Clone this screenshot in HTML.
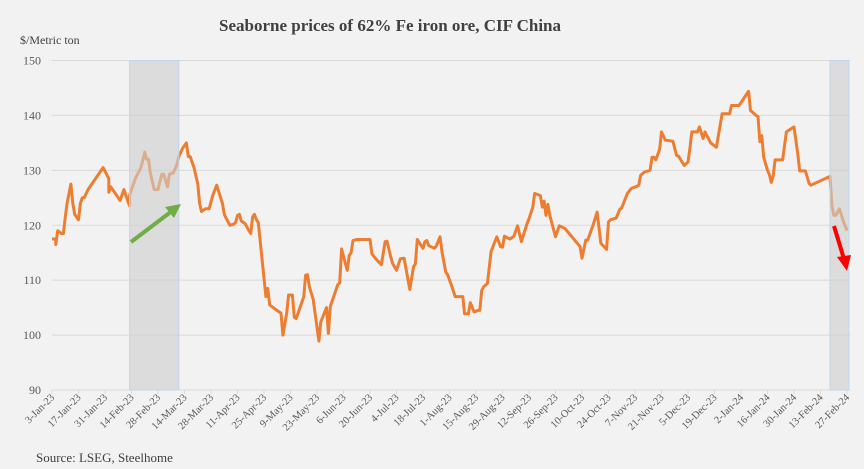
<!DOCTYPE html>
<html><head><meta charset="utf-8"><style>
body{margin:0;background:#f2f2f2;}
svg{display:block;font-family:"Liberation Serif",serif;}
</style></head><body>
<svg width="864" height="469" viewBox="0 0 864 469">
<rect width="864" height="469" fill="#f2f2f2"/>
<text x="390" y="31" text-anchor="middle" font-size="17" font-weight="bold" fill="#404040">Seaborne prices of 62% Fe iron ore, CIF China</text>
<text x="20" y="44" font-size="12" fill="#404040">$/Metric ton</text>
<g id="grid"></g><g id="line"></g><g id="shade"></g><g id="axes"></g>
<g><line x1="131" y1="242" x2="172" y2="211" stroke="#70ad47" stroke-width="4"/><polygon points="181,204 165,207 174,218" fill="#70ad47"/></g>
<g><line x1="834" y1="226" x2="844" y2="259" stroke="#ff0000" stroke-width="4"/><polygon points="847,271 837,257 851,255" fill="#ff0000"/></g>
<text x="36" y="462" font-size="13" fill="#404040">Source: LSEG, Steelhome</text>
</svg>
<script>
const days=[0,2,2,3,5,6,7,8,10,11,12,14,15,16,17,19,27,30,30,31,32,34,36,38,40,41,41,43,44,47,49,50,51,52,54,56,58,59,61,62,64,66,67,69,71,72,73,75,77,78,79,81,83,85,87,90,91,92,94,96,97,98,99,100,102,104,105,106,107,108,109,113,114,115,118,121,122,124,125,127,128,129,133,134,135,136,138,141,142,145,146,147,150,151,152,153,155,156,157,158,159,161,168,169,171,174,176,177,179,180,182,184,186,189,191,192,193,196,197,198,199,202,203,205,206,208,209,211,213,217,218,220,221,223,225,226,227,228,230,232,235,237,238,239,240,242,244,246,248,251,252,254,255,258,259,260,261,262,263,266,268,271,279,280,282,283,286,288,290,293,294,295,298,300,301,304,306,309,310,311,313,316,317,318,319,321,322,324,328,330,331,334,336,337,338,341,342,344,345,348,351,354,358,359,363,367,368,369,372,373,374,375,376,378,379,380,381,382,386,388,392,394,395,398,400,401,411,412,413,414,416,418,420];
const prices=[117.5,117.5,116.5,119,118.5,118.5,121.5,124,127.5,124,122,121,124,125,125,126.5,130.5,128.5,126,127,126.5,125.5,124.5,126.5,124.5,123.5,125.5,127.5,128.5,130.5,133.3,132,132,129.5,126.5,126.5,129.3,129.3,127,129.3,129.5,131,132.5,134,135,132.5,132.5,130.5,127.5,124,122.5,123,123,125.5,127.3,124,122,121.3,120,120.2,120.5,121.8,122,120.8,120.3,119,118.5,121.5,122,121,120.5,107,108.5,105.5,104.7,104,100,104,107.3,107.3,103.3,103,107,110.9,111,108.8,106.5,98.9,102.4,105,100.3,105.2,108.2,109.2,109.5,115.7,113,111.8,114.5,115,117.2,117.4,117.4,114.8,113.9,112.8,117,117.1,114.2,113,111.8,113.9,114,108.3,112.4,113,117.4,115.8,117,117.2,116.3,115.8,116.2,117.9,115.3,111.5,111,109.1,107,107,103.9,103.9,105.9,104.2,104.5,104.5,108.1,108.8,109.4,115.2,117.9,116.1,116,118,117.8,117.5,118,119.9,117,120.3,121.2,123.3,125.8,125.4,123.3,124.4,121.8,123.8,121.8,117.9,119.9,119.4,116.1,114,117.3,117.3,120.2,122.4,116.7,115.6,120.6,121,121.3,122.9,123.2,125.8,126.7,127.1,127.3,129.1,129.7,130,132.4,132.4,131.9,133.8,137,135.5,135.3,132.7,132.6,130.9,131.5,134,137,137,137.9,135.8,137,135,134.2,140.3,140.3,141.8,141.8,143.9,144.4,140.9,140,139.8,135.2,136.3,132.4,130,129.2,127.8,129,131.9,131.9,137,137.9,133,129.9,129.9,127.6,127.3,128.9,123.6,121.8,121.8,123,120.8,119];
const yTicks=[90,100,110,120,130,140,150];
const xLabels=["3-Jan-23","17-Jan-23","31-Jan-23","14-Feb-23","28-Feb-23","14-Mar-23","28-Mar-23","11-Apr-23","25-Apr-23","9-May-23","23-May-23","6-Jun-23","20-Jun-23","4-Jul-23","18-Jul-23","1-Aug-23","15-Aug-23","29-Aug-23","12-Sep-23","26-Sep-23","10-Oct-23","24-Oct-23","7-Nov-23","21-Nov-23","5-Dec-23","19-Dec-23","2-Jan-24","16-Jan-24","30-Jan-24","13-Feb-24","27-Feb-24"];
const shadeRanges=[[41,67],[411,421]];
const NS="http://www.w3.org/2000/svg";
const X0=52,X1=847,Y0=390,Y1=60.5,D=420;
function xs(d){return X0+d*(X1-X0)/D;}
function ys(v){return Y0-(v-90)*(Y0-Y1)/60;}
function mk(t,a,p){const e=document.createElementNS(NS,t);for(const k in a)e.setAttribute(k,a[k]);p.appendChild(e);return e;}
const grid=document.getElementById('grid'),axes=document.getElementById('axes'),line=document.getElementById('line'),shade=document.getElementById('shade');
yTicks.forEach(v=>{
 const g=mk('line',{x1:X0,x2:850,y1:ys(v),y2:ys(v),stroke:'#d9d9d9','stroke-width':1},grid);
 
 
 const t=mk('text',{x:41,y:ys(v)+4,'text-anchor':'end','font-size':12,fill:'#595959'},axes);
 t.textContent=v;
 
 
});
xLabels.forEach((l,i)=>{
 const x=xs(i*14);
 const tk=mk('line',{x1:x,x2:x,y1:Y0,y2:Y0+4,stroke:'#d9d9d9'},axes);
 
 
 const t=mk('text',{x:x+3,y:Y0+8,'text-anchor':'end','font-size':10.5,fill:'#595959',transform:`rotate(-45 ${x+3} ${Y0+8})`},axes);
 t.textContent=l;
 
 
});
const pts=days.map((d,i)=>xs(d).toFixed(1)+','+ys(prices[i]).toFixed(1)).join(' ');
const pl=mk('polyline',{points:pts,fill:'none',stroke:'#ed7d31','stroke-width':3,'stroke-linejoin':'round'},line);


shadeRanges.forEach((r,i)=>{
 const s=mk('rect',{x:xs(r[0]),y:Y1,width:xs(r[1])-xs(r[0]),height:Y0-Y1,fill:'rgba(205,205,205,0.6)',stroke:'#bdd7ee','stroke-width':1},shade);
 
 
});
</script>
</body></html>
